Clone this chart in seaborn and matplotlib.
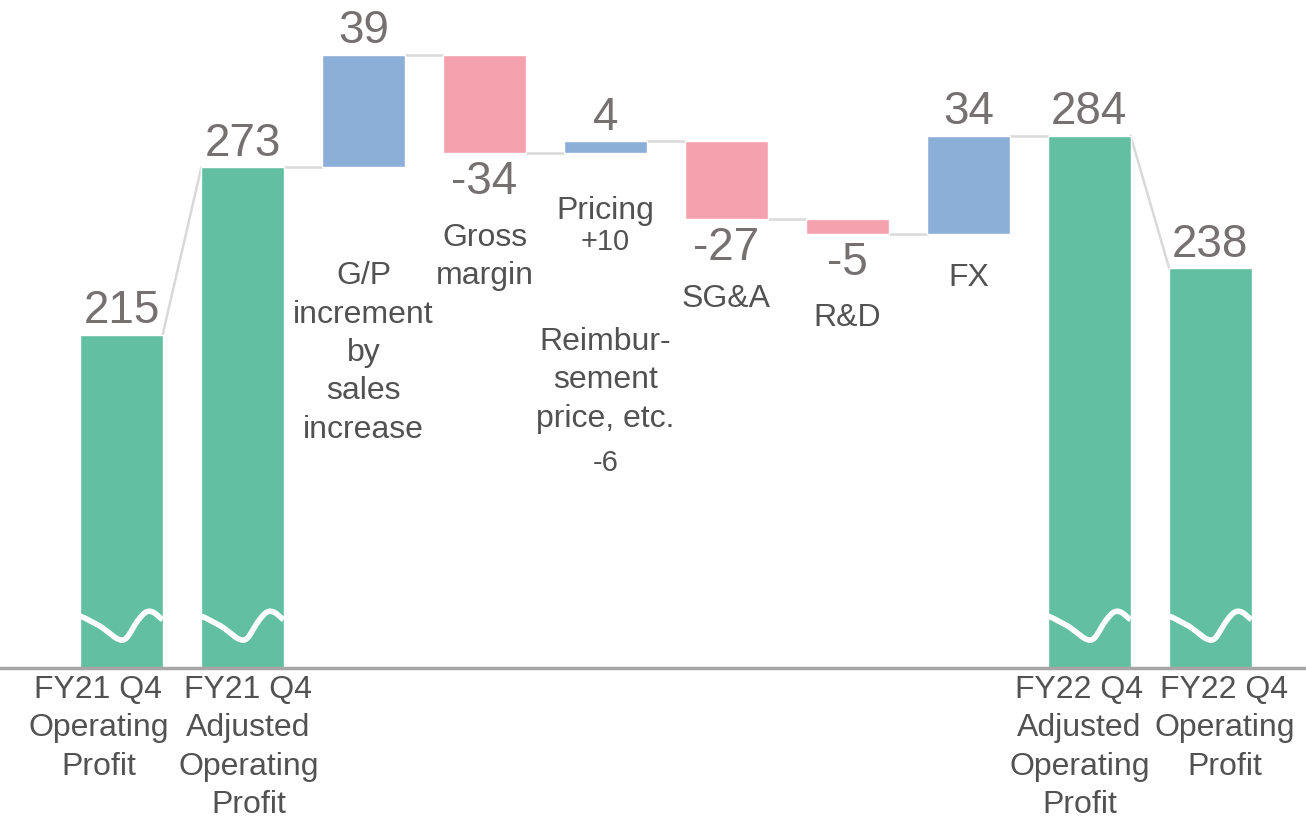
import numpy as np
import pandas as pd
import matplotlib.pyplot as plt
import seaborn as sns

# data
steps = ["FY21 Q4 OP", "FY21 Q4 Adj OP", "G/P increment", "Gross margin",
         "Pricing", "SG&A", "R&D", "FX", "FY22 Q4 Adj OP", "FY22 Q4 OP"]
values = [215, 273, 39, -34, 4, -27, -5, 34, 284, 238]
kinds = ["total", "total", "delta", "delta", "delta", "delta", "delta", "delta", "total", "total"]
total_labels = ["FY21 Q4\nOperating\nProfit", "FY21 Q4\nAdjusted\nOperating\nProfit",
                "FY22 Q4\nAdjusted\nOperating\nProfit", "FY22 Q4\nOperating\nProfit"]
delta_labels = ["G/P\nincrement\nby\nsales\nincrease", "Gross\nmargin", "Pricing",
                "SG&A", "R&D", "FX"]
pricing_notes = ["+10", "Reimbur-\nsement\nprice, etc.", "-6"]
axis_floor = 99.6  # broken axis starts here

# running levels
starts, ends = [], []
level = 0
for v, k in zip(values, kinds):
    if k == "total":
        starts.append(0)
        ends.append(v)
        level = v
    else:
        starts.append(level)
        level = level + v
        ends.append(level)

df = pd.DataFrame({"step": steps, "value": values, "kind": kinds,
                   "start": starts, "end": ends})
df["low"] = df[["start", "end"]].min(axis=1)
df["high"] = df[["start", "end"]].max(axis=1)
df["height"] = df["high"] - df["low"]
df["kind2"] = np.where(df["kind"] == "total", "total",
                       np.where(df["value"] >= 0, "up", "down"))

colors = {"total": "#63BFA1", "up": "#8CAFD8", "down": "#F6A1AE"}
val_color = "#767171"
lab_color = "#525252"
W = 0.68
LS = 1.36

sns.set_style("white")
plt.rcParams["font.family"] = ["Liberation Sans", "DejaVu Sans"]

fig = plt.figure(figsize=(13.06, 8.22), dpi=100)
ax = fig.add_axes([0, 154 / 822, 1, 668 / 822])

for k, c in colors.items():
    sub = df[df["kind2"] == k]
    sns.barplot(data=sub, x="step", y="height", order=steps, bottom=sub["low"].values,
                color=c, saturation=1, width=W, errorbar=None, ax=ax, zorder=2)

# connectors
for i in range(len(df) - 1):
    a = df.iloc[i]
    b = df.iloc[i + 1]
    y0 = a["end"]
    y1 = b["high"] if b["kind"] == "total" else b["start"]
    ax.plot([i + W / 2, i + 1 - W / 2], [y0, y1], color="#D9D9D9", lw=1.8, zorder=1)

# break marks on totals
t = np.linspace(0, 1, 200)
ctrl_t = [0, 0.25, 0.45, 0.55, 0.68, 0.8, 0.9, 1.0]
ctrl_y = [117.7, 114.0, 109.5, 109.0, 115.5, 119.5, 119.0, 116.0]
wave = np.interp(t, ctrl_t, ctrl_y)
wave = np.convolve(np.pad(wave, 10, mode="edge"), np.ones(21) / 21, mode="valid")
for i in df.index[df["kind"] == "total"]:
    ax.plot(i - W / 2 + t * W, wave, color="white", lw=4, zorder=3,
            solid_capstyle="butt")

# value labels
for i, r in df.iterrows():
    txt = str(r["value"])
    if r["value"] >= 0:
        ax.annotate(txt, (i, r["high"]), xytext=(0, 1), textcoords="offset points",
                    ha="center", va="bottom", fontsize=33, color=val_color, zorder=4)
    else:
        ax.annotate(txt, (i, r["low"]), xytext=(0, -5), textcoords="offset points",
                    ha="center", va="top", fontsize=33, color=val_color, zorder=4)

# category labels for totals (below axis)
tot_idx = list(df.index[df["kind"] == "total"])
dx_px = [-23, 6, -10, 14]
for i, lab, dx in zip(tot_idx, total_labels, dx_px):
    ax.annotate(lab, (i, axis_floor), xytext=(dx * 0.72, -5), textcoords="offset points",
                ha="center", va="top", fontsize=23, color=lab_color,
                linespacing=LS, annotation_clip=False)

# category labels for deltas (inside chart), offsets in px below bar bottom
del_idx = list(df.index[df["kind"] == "delta"])
offs_px = [94, 70, 43, 65, 69, 29]
for i, lab, o in zip(del_idx, delta_labels, offs_px):
    ax.annotate(lab, (i, df.loc[i, "low"]), xytext=(0, -o * 0.72),
                textcoords="offset points", ha="center", va="top",
                fontsize=23, color=lab_color, linespacing=LS)

pi = steps.index("Pricing")
low_p = df.loc[pi, "low"]
ax.annotate(pricing_notes[0], (pi, low_p), xytext=(0, -75 * 0.72), textcoords="offset points",
            ha="center", va="top", fontsize=21, color=lab_color)
ax.annotate(pricing_notes[1], (pi, low_p), xytext=(0, -174 * 0.72), textcoords="offset points",
            ha="center", va="top", fontsize=23, color=lab_color, linespacing=LS)
ax.annotate(pricing_notes[2], (pi, low_p), xytext=(0, -296 * 0.72), textcoords="offset points",
            ha="center", va="top", fontsize=21, color=lab_color)

ax.axhline(axis_floor, color="#A6A6A6", lw=2.5, zorder=5, clip_on=False)
ax.set_xlim(-1.004, 9.79)
ax.set_ylim(axis_floor, axis_floor + 668 / 2.887)
ax.set_xticks([])
ax.set_yticks([])
ax.set_xlabel("")
ax.set_ylabel("")
sns.despine(ax=ax, left=True, bottom=True)

fig.savefig("out.png", dpi=100)
